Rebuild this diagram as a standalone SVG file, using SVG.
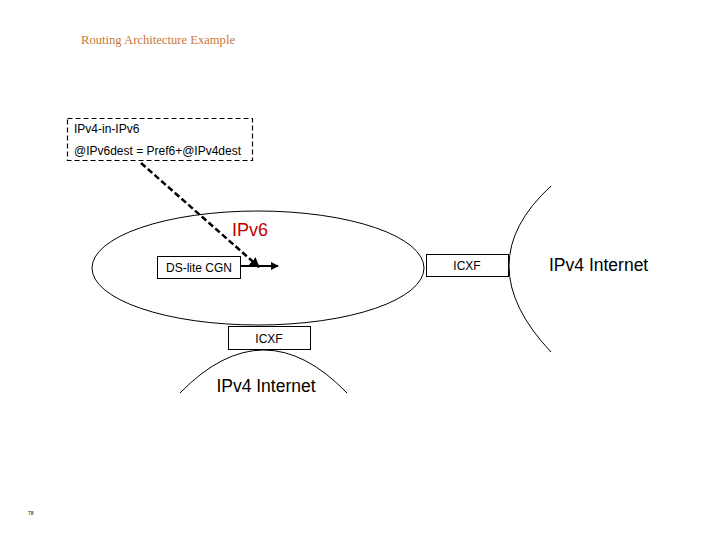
<svg xmlns="http://www.w3.org/2000/svg" width="720" height="540" viewBox="0 0 720 540">
<style>
.lbl{font-family:"Liberation Sans",Arial,sans-serif;fill:#000}
.box{fill:#fff;stroke:#000;stroke-width:1}
.ln{fill:none;stroke:#000;stroke-width:1}
</style>
<defs>
<marker id="ah" viewBox="0 0 10 10" refX="9" refY="5" markerWidth="4" markerHeight="4" orient="auto" markerUnits="strokeWidth">
<path d="M0,0 L10,5 L0,10 z" fill="#000"/>
</marker>
</defs>
<rect width="720" height="540" fill="#fff"/>
<text x="81" y="44" font-family="'Liberation Serif',serif" font-size="13" fill="#c8783a" textLength="154" lengthAdjust="spacingAndGlyphs">Routing Architecture Example</text>
<g id="ipv6-domain">
<ellipse class="ln" cx="258" cy="268" rx="166" ry="57"/>
<text x="250" y="236" text-anchor="middle" font-family="'Liberation Sans',Arial,sans-serif" font-size="18" fill="#c00000">IPv6</text>
</g>
<g id="ipv4-right">
<path class="ln" d="M551,186 Q467,263 551,352"/>
<text class="lbl" x="549" y="271" font-size="17.5">IPv4 Internet</text>
</g>
<g id="ipv4-bottom">
<path class="ln" d="M180,393 Q264,307 347,393"/>
<text class="lbl" x="266" y="392" font-size="17.5" text-anchor="middle">IPv4 Internet</text>
</g>
<g id="encap-note">
<rect x="67.5" y="118.5" width="185" height="42" fill="#fff" stroke="#000" stroke-width="1.2" stroke-dasharray="5,3"/>
<text class="lbl" x="74" y="133" font-size="12">IPv4-in-IPv6</text>
<text class="lbl" x="74" y="155" font-size="12" textLength="167" lengthAdjust="spacingAndGlyphs">@IPv6dest = Pref6+@IPv4dest</text>
</g>
<g id="ds-lite-cgn">
<rect class="box" x="157.5" y="256.5" width="83" height="22"/>
<text class="lbl" x="199" y="272" font-size="12" text-anchor="middle">DS-lite CGN</text>
</g>
<g id="icxf-right">
<rect class="box" x="426.5" y="254.5" width="82" height="22"/>
<text class="lbl" x="467" y="270" font-size="12" text-anchor="middle">ICXF</text>
</g>
<g id="icxf-bottom">
<rect class="box" x="228.5" y="326.5" width="82" height="23"/>
<text class="lbl" x="269" y="343" font-size="12" text-anchor="middle">ICXF</text>
</g>
<g id="connectors">
<line x1="241" y1="266" x2="278" y2="266" stroke="#000" stroke-width="2" marker-end="url(#ah)"/>
<line x1="141" y1="163" x2="259" y2="267" stroke="#000" stroke-width="2.5" stroke-dasharray="6,3" marker-end="url(#ah)"/>
</g>
<text class="lbl" x="28" y="515" font-size="5">78</text>
</svg>
